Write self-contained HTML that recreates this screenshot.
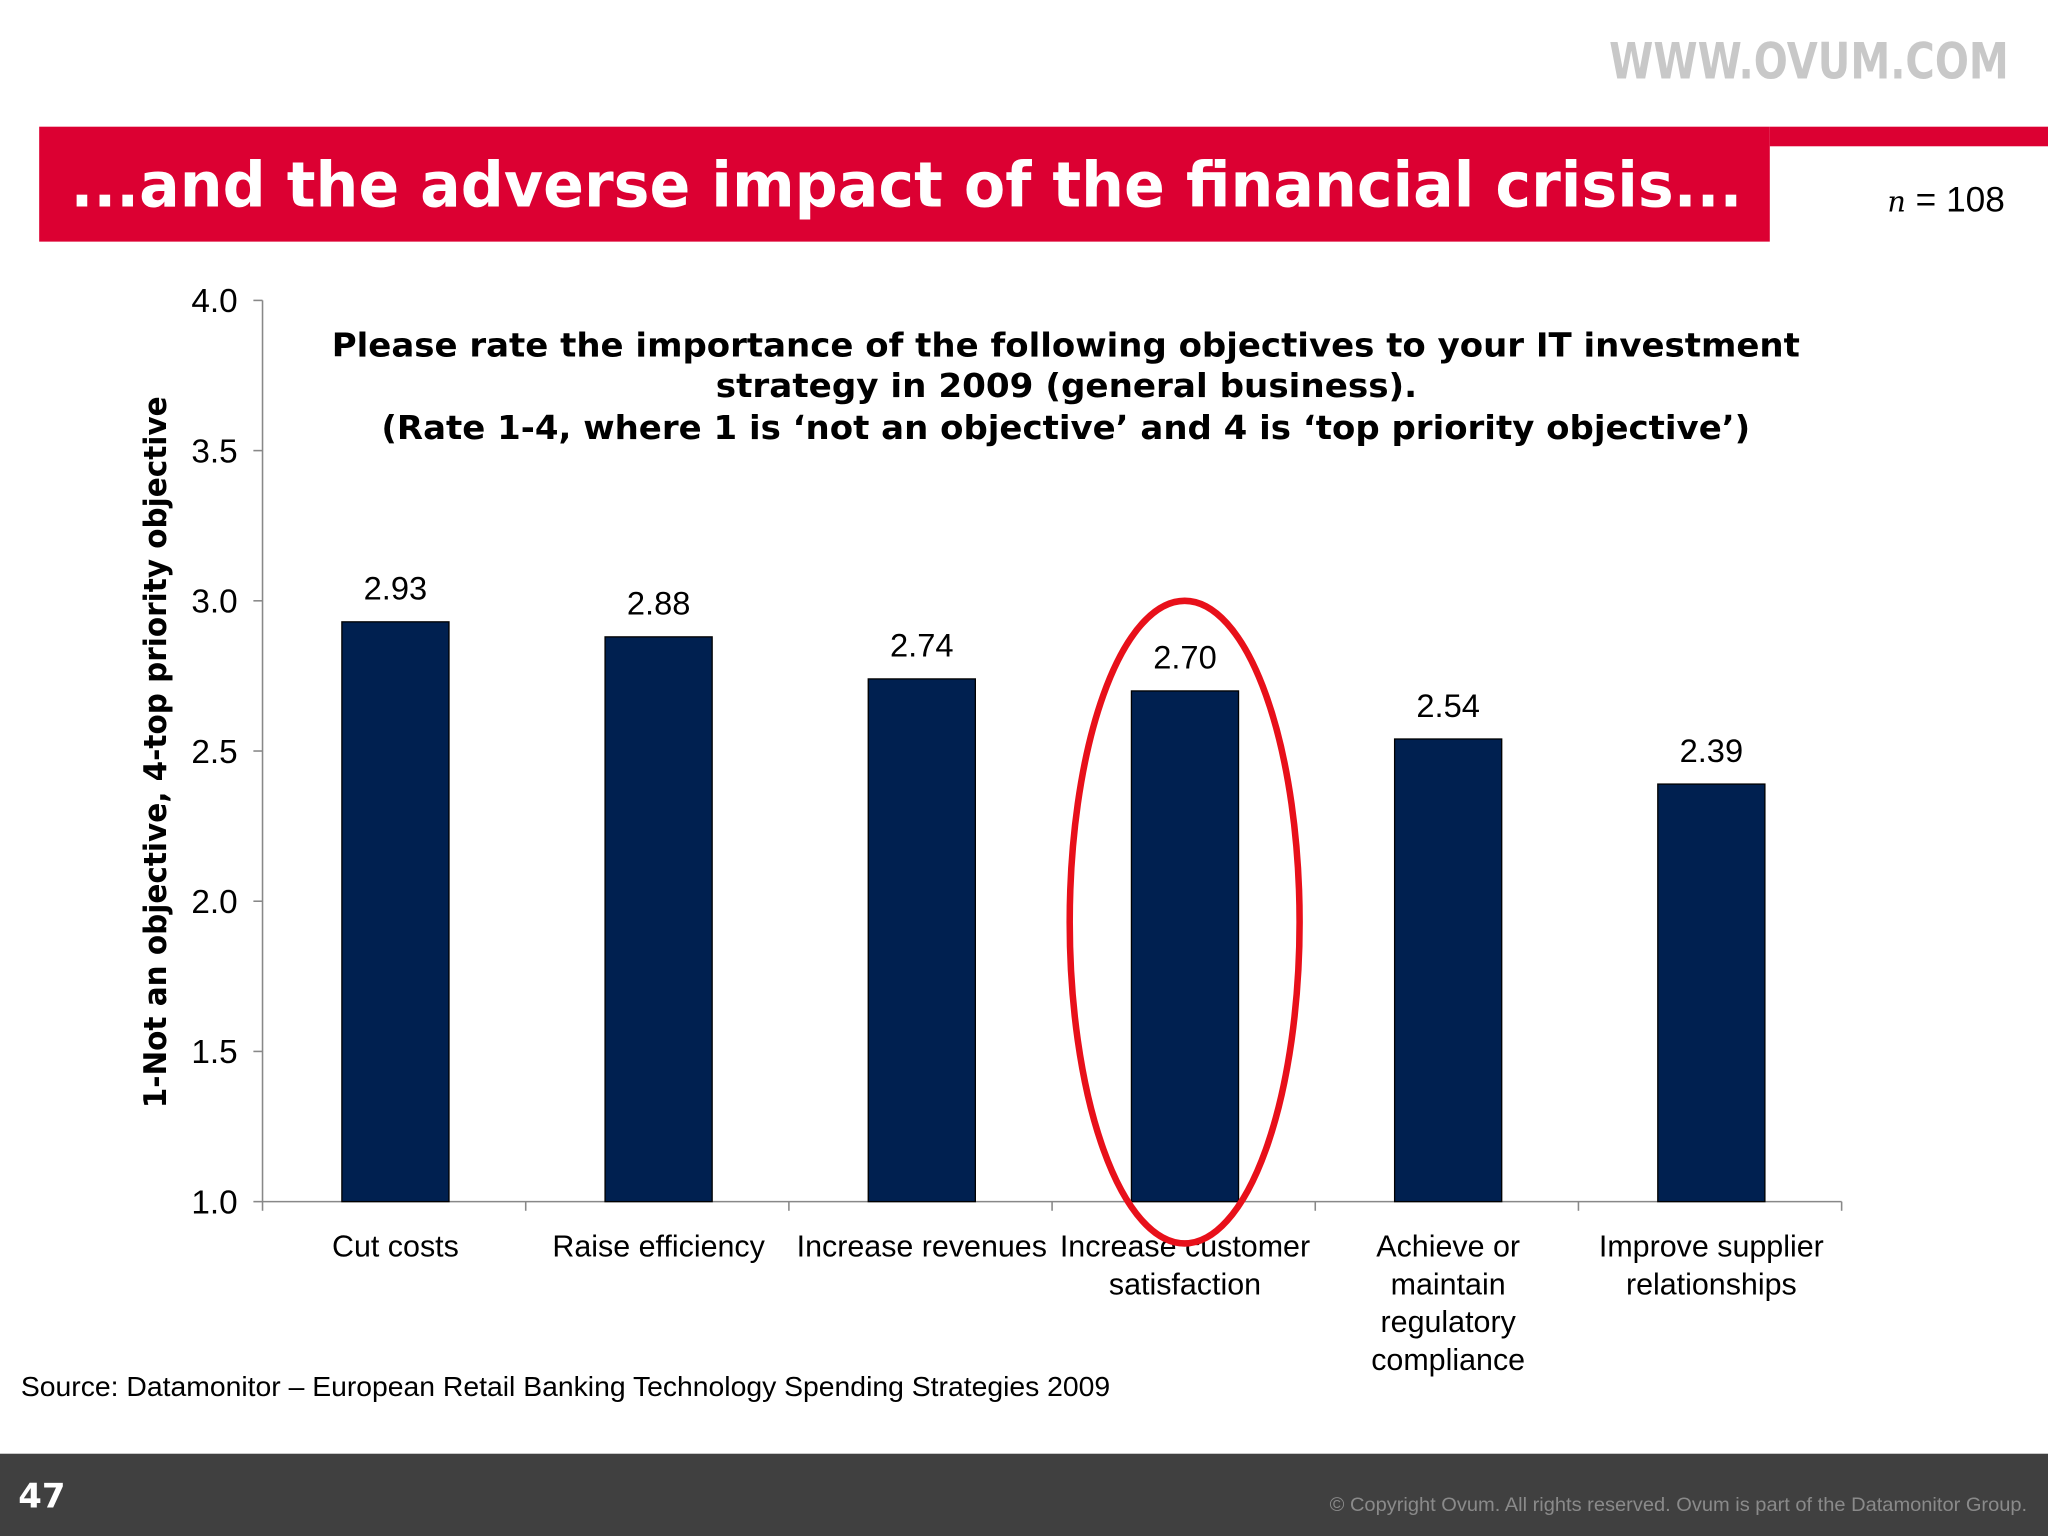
<!DOCTYPE html>
<html><head><meta charset="utf-8"><style>
html,body{margin:0;padding:0;background:#fff;}
svg{display:block;}
</style></head><body>
<svg width="2048" height="1536" viewBox="0 0 1568 1176" xmlns="http://www.w3.org/2000/svg" font-family="Liberation Sans, sans-serif">
<text x="1232" y="60" textLength="306" lengthAdjust="spacingAndGlyphs" font-family="DejaVu Sans, sans-serif" font-weight="bold" font-size="38" fill="#c8c8c8">WWW.OVUM.COM</text>
<rect x="30" y="97" width="1325" height="88" fill="#dc0032"/>
<rect x="1355" y="97" width="213" height="15" fill="#dc0032"/>
<text x="54" y="158" textLength="1280" lengthAdjust="spacingAndGlyphs" font-family="DejaVu Sans, sans-serif" font-weight="bold" font-size="48" fill="#fff">...and the adverse impact of the financial crisis...</text>
<text x="1535" y="162" text-anchor="end" font-size="27" fill="#000"><tspan font-style="italic" font-family="DejaVu Serif, serif" font-size="22">n</tspan> = 108</text>
<text font-family="DejaVu Sans, sans-serif" font-weight="bold" font-size="25" fill="#000">
<tspan x="254" y="273" textLength="1124" lengthAdjust="spacingAndGlyphs">Please rate the importance of the following objectives to your IT investment</tspan>
<tspan x="548" y="304" textLength="537" lengthAdjust="spacingAndGlyphs">strategy in 2009 (general business).</tspan>
<tspan x="292" y="336" textLength="1048" lengthAdjust="spacingAndGlyphs">(Rate 1-4, where 1 is ‘not an objective’ and 4 is ‘top priority objective’)</tspan>
</text>
<text transform="translate(127,576) rotate(-90)" text-anchor="middle" textLength="545" lengthAdjust="spacingAndGlyphs" font-family="DejaVu Sans, sans-serif" font-weight="bold" font-size="24" fill="#000">1-Not an objective, 4-top priority objective</text>
<g id="chart"></g>
<ellipse cx="907" cy="706" rx="88" ry="246" fill="none" stroke="#e8101a" stroke-width="5"/>
<text x="16" y="1069" textLength="834" lengthAdjust="spacingAndGlyphs" font-size="21" fill="#000">Source: Datamonitor – European Retail Banking Technology Spending Strategies 2009</text>
<rect x="0" y="1113" width="1568" height="63" fill="#404040"/>
<text x="14" y="1154" font-family="DejaVu Sans, sans-serif" font-weight="bold" font-size="26" fill="#fff">47</text>
<text x="1018" y="1157" textLength="534" lengthAdjust="spacingAndGlyphs" font-size="15" fill="#8a8a8a">© Copyright Ovum. All rights reserved. Ovum is part of the Datamonitor Group.</text>
</svg>
<script>
const categories=[["Cut costs"],["Raise efficiency"],["Increase revenues"],["Increase customer","satisfaction"],["Achieve or","maintain","regulatory","compliance"],["Improve supplier","relationships"]];
const values=[2.93,2.88,2.74,2.70,2.54,2.39];
const valueLabels=["2.93","2.88","2.74","2.70","2.54","2.39"];
const yTicks=[1.0,1.5,2.0,2.5,3.0,3.5,4.0];
const NS="http://www.w3.org/2000/svg";
const g=document.getElementById('chart');
const x0=201,x1=1410,yTop=230,yBot=920,yMin=1,yMax=4;
const y=v=>yBot-(v-yMin)/(yMax-yMin)*(yBot-yTop);
const bw=(x1-x0)/categories.length;
const xc=i=>x0+bw*(i+0.5)+1;
function mk(t,a){const e=document.createElementNS(NS,t);for(const k in a)e.setAttribute(k,a[k]);g.appendChild(e);return e;}
let e=mk('line',{x1:x0,y1:yTop,x2:x0,y2:yBot,stroke:'#888','stroke-width':1.2});


e=mk('line',{x1:x0,y1:yBot,x2:x1,y2:yBot,stroke:'#888','stroke-width':1.2});


yTicks.forEach(v=>{
  const t=mk('line',{x1:x0-7,y1:y(v),x2:x0,y2:y(v),stroke:'#888','stroke-width':1.2});
  
  
  const l=mk('text',{x:x0-19,y:y(v)+9,'text-anchor':'end','font-size':25.5,fill:'#000'});
  l.textContent=v.toFixed(1);
  
  
});
for(let i=0;i<=categories.length;i++){
  const t=mk('line',{x1:x0+bw*i,y1:yBot,x2:x0+bw*i,y2:yBot+7,stroke:'#888','stroke-width':1.2});
  
  
}
values.forEach((v,i)=>{
  const b=mk('rect',{x:xc(i)-41,y:y(v),width:82,height:yBot-y(v),fill:'#002050',stroke:'#000','stroke-width':1});
  
  
  const l=mk('text',{x:xc(i),y:y(v)-17,'text-anchor':'middle','font-size':25,fill:'#000'});
  l.textContent=valueLabels[i];
  
  
  categories[i].forEach((s,j)=>{
    const c=mk('text',{x:xc(i),y:962+j*29,'text-anchor':'middle','font-size':23.3,fill:'#000'});
    c.textContent=s;
    
    
  });
});
</script>
</body></html>
